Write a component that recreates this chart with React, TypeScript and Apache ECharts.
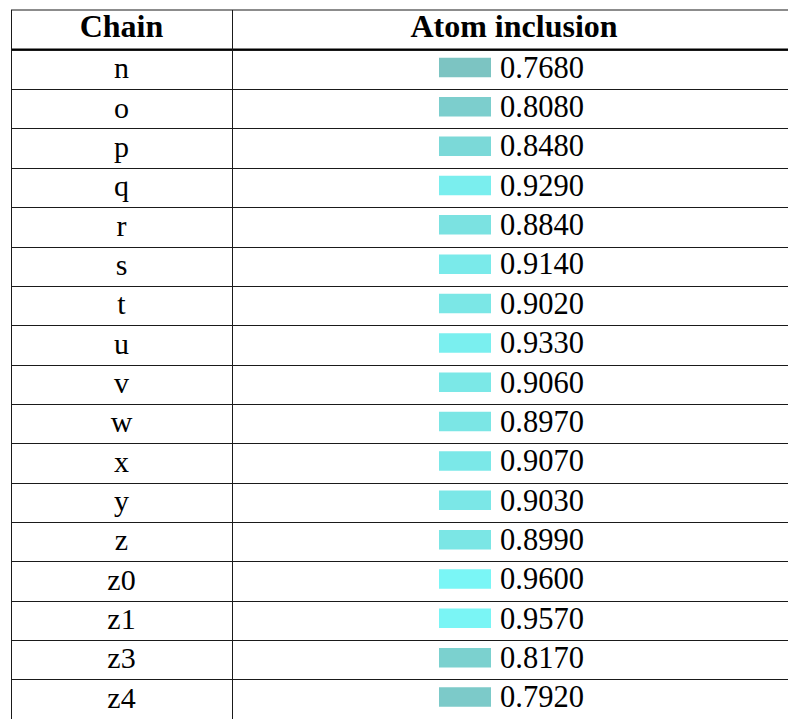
import React, { useEffect, useRef } from "react";
import * as echarts from "echarts";

const chains = ["n", "o", "p", "q", "r", "s", "t", "u", "v", "w", "x", "y", "z", "z0", "z1", "z3", "z4"];
const atomInclusion = [0.768, 0.808, 0.848, 0.929, 0.884, 0.914, 0.902, 0.933, 0.906, 0.897, 0.907, 0.903, 0.899, 0.96, 0.957, 0.817, 0.792];
const headers = ["Chain", "Atom inclusion"];

const FONT = "Liberation Serif";
const COL1_CENTER = 121.5;
const COL2_CENTER = 514;
const ROW_H = 39.6;
const TOP = 50;

export default function App() {
  const ref = useRef<HTMLDivElement>(null);
  useEffect(() => {
    if (!ref.current) return;
    const chart = echarts.init(ref.current, null, { renderer: "svg" });
    const data = atomInclusion.map((v, i) => [i, v]);
    chart.setOption({
      animation: false,
      backgroundColor: "#ffffff",
      grid: { left: 11, right: 0, top: TOP, height: ROW_H * chains.length, containLabel: false },
      xAxis: { type: "value", min: 0, max: 1, show: false },
      yAxis: {
        type: "category",
        data: chains,
        inverse: true,
        axisLabel: { show: false },
        axisTick: { show: false },
        axisLine: { show: false },
        splitLine: { show: true, lineStyle: { color: "#1a1a1a", width: 1.2 } },
      },
      visualMap: {
        show: false,
        type: "continuous",
        seriesIndex: 0,
        dimension: 1,
        min: 0.768,
        max: 0.96,
        inRange: { color: ["#7cc4c2", "#7af6f6"] },
      },
      series: [
        {
          type: "custom",
          data,
          encode: { x: 1, y: 0 },
          renderItem: (params: any, api: any) => {
            const idx = api.value(0);
            const val = api.value(1);
            const cy = api.coord([0, idx])[1];
            const color = api.visual("color");
            return {
              type: "group",
              children: [
                {
                  type: "text",
                  style: {
                    x: COL1_CENTER,
                    y: cy - 2,
                    text: chains[idx],
                    fontFamily: FONT,
                    fontSize: 30,
                    fill: "#000",
                    align: "center",
                    verticalAlign: "middle",
                  },
                },
                {
                  type: "rect",
                  shape: { x: 439, y: cy - 12, width: 52, height: 19.5 },
                  style: { fill: color },
                },
                {
                  type: "text",
                  style: {
                    x: 500,
                    y: cy - 2,
                    text: val.toFixed(4),
                    fontFamily: FONT,
                    fontSize: 30.5,
                    fill: "#000",
                    align: "left",
                    verticalAlign: "middle",
                  },
                },
              ],
            };
          },
        },
      ],
      graphic: [
        { type: "line", shape: { x1: 11, y1: 10, x2: 788, y2: 10 }, style: { stroke: "#1a1a1a", lineWidth: 1.2 } },
        { type: "line", shape: { x1: 11, y1: 49.5, x2: 788, y2: 49.5 }, style: { stroke: "#000", lineWidth: 1.8 } },
        { type: "line", shape: { x1: 11.5, y1: 10, x2: 11.5, y2: 719 }, style: { stroke: "#1a1a1a", lineWidth: 1 } },
        { type: "line", shape: { x1: 232.5, y1: 10, x2: 232.5, y2: 719 }, style: { stroke: "#1a1a1a", lineWidth: 1 } },
        {
          type: "text",
          style: { x: COL1_CENTER, y: 26, text: headers[0], fontFamily: FONT, fontSize: 32, fontWeight: "bold", fill: "#000", align: "center", verticalAlign: "middle" },
        },
        {
          type: "text",
          style: { x: COL2_CENTER, y: 26, text: headers[1], fontFamily: FONT, fontSize: 32, fontWeight: "bold", fill: "#000", align: "center", verticalAlign: "middle" },
        },
      ],
    });
    return () => chart.dispose();
  }, []);
  return <div ref={ref} style={{ position: "fixed", left: 0, top: 0, width: 788, height: 719 }} />;
}
